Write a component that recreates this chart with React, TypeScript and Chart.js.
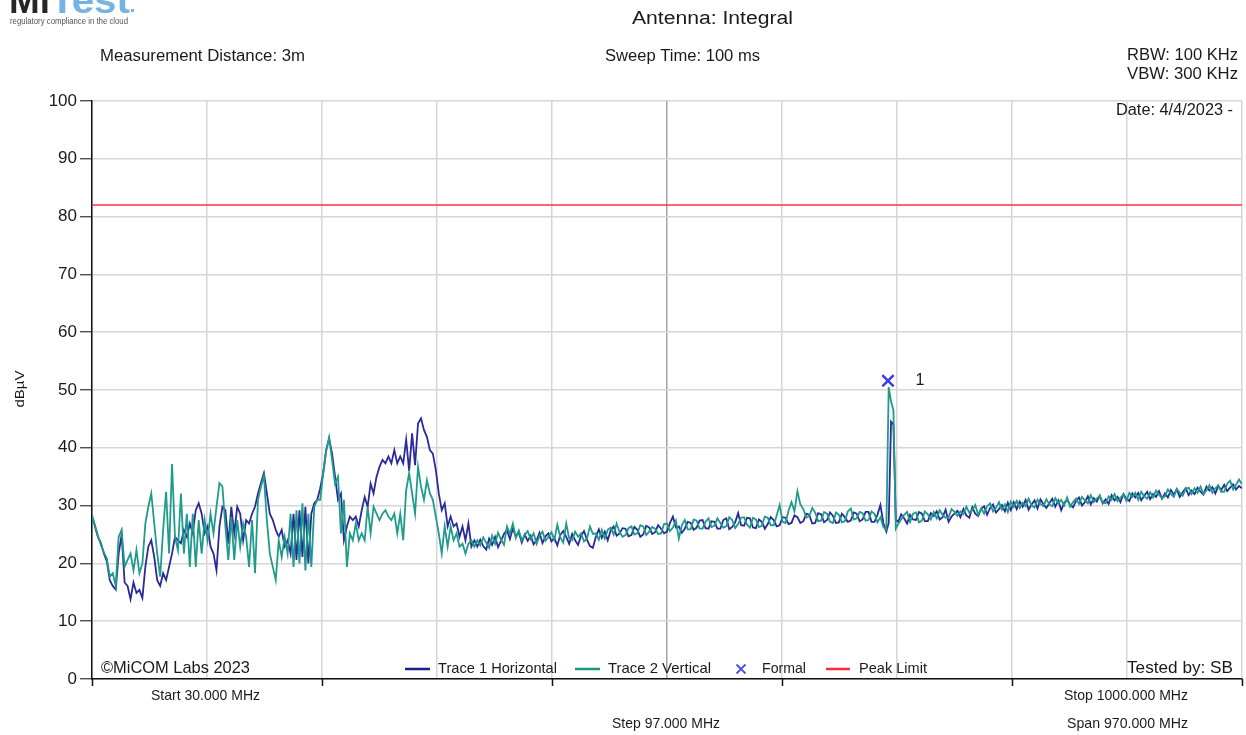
import React, { useEffect, useRef } from 'react';
import { Chart, registerables } from 'chart.js';

Chart.register(...registerables);

// ---------- DATA ----------
// Frequency (MHz) of each sample shared by both traces
const freqsMHz: number[] = [
  30, 32.5, 35, 37.5, 40, 42.5, 45, 47.5, 50, 52.5,
  55, 57.5, 60, 62.5, 65, 67.5, 70, 72.5, 75, 77.5,
  80, 82.5, 85, 87.5, 90, 92.5, 95, 97.5, 100, 102.5,
  105, 107.5, 110, 112.5, 115, 117.5, 120, 122.5, 125, 127.5,
  130, 132.5, 135, 137.5, 140, 142.5, 145, 147.5, 150, 152.5,
  155, 157.5, 160, 162.5, 165, 167.5, 170, 172.5, 175, 177.5,
  180, 182.5, 185, 187.5, 190, 192.5, 195, 197.5, 200, 202.5,
  205, 207.5, 210, 212.5, 215, 217.5, 220, 222.5, 225, 227.5,
  230, 232.5, 235, 237.5, 240, 242.5, 245, 247.5, 250, 252.5,
  255, 257.5, 260, 262.5, 265, 267.5, 270, 272.5, 275, 277.5,
  280, 282.5, 285, 287.5, 290, 292.5, 295, 297.5, 300, 302.5,
  305, 307.5, 310, 312.5, 315, 317.5, 320, 322.5, 325, 327.5,
  330, 332.5, 335, 337.5, 340, 342.5, 345, 347.5, 350, 352.5,
  355, 357.5, 360, 362.5, 365, 367.5, 370, 372.5, 375, 377.5,
  380, 382.5, 385, 387.5, 390, 392.5, 395, 397.5, 400, 402.5,
  405, 407.5, 410, 412.5, 415, 417.5, 420, 422.5, 425, 427.5,
  430, 432.5, 435, 437.5, 440, 442.5, 445, 447.5, 450, 452.5,
  455, 457.5, 460, 462.5, 465, 467.5, 470, 472.5, 475, 477.5,
  480, 482.5, 485, 487.5, 490, 492.5, 495, 497.5, 500, 502.5,
  505, 507.5, 510, 512.5, 515, 517.5, 520, 522.5, 525, 527.5,
  530, 532.5, 535, 537.5, 540, 542.5, 545, 547.5, 550, 552.5,
  555, 557.5, 560, 562.5, 565, 567.5, 570, 572.5, 575, 577.5,
  580, 582.5, 585, 587.5, 590, 592.5, 595, 597.5, 600, 602.5,
  605, 607.5, 610, 612.5, 615, 617.5, 620, 622.5, 625, 627.5,
  630, 632.5, 635, 637.5, 640, 642.5, 645, 647.5, 650, 652.5,
  655, 657.5, 660, 662.5, 665, 667.5, 670, 672.5, 675, 677.5,
  680, 682.5, 685, 687.5, 690, 692.5, 695, 697.5,
  700, 702, 704, 706, 708,
  710, 712.5, 715, 717.5, 720, 722.5, 725, 727.5, 730, 732.5,
  735, 737.5, 740, 742.5, 745, 747.5, 750, 752.5, 755, 757.5,
  760, 762.5, 765, 767.5, 770, 772.5, 775, 777.5, 780, 782.5,
  785, 787.5, 790, 792.5, 795, 797.5, 800, 802.5, 805, 807.5,
  810, 812.5, 815, 817.5, 820, 822.5, 825, 827.5, 830, 832.5,
  835, 837.5, 840, 842.5, 845, 847.5, 850, 852.5, 855, 857.5,
  860, 862.5, 865, 867.5, 870, 872.5, 875, 877.5, 880, 882.5,
  885, 887.5, 890, 892.5, 895, 897.5, 900, 902.5, 905, 907.5,
  910, 912.5, 915, 917.5, 920, 922.5, 925, 927.5, 930, 932.5,
  935, 937.5, 940, 942.5, 945, 947.5, 950, 952.5, 955, 957.5,
  960, 962.5, 965, 967.5, 970, 972.5, 975, 977.5, 980, 982.5,
  985, 987.5, 990, 992.5, 995, 997.5, 1000,
];

// Trace 1 Horizontal (dBµV)
const trace1Horizontal: number[] = [
  28.3, 26.4, 24.6, 23.5, 21.7, 20.4, 17.1, 16.1, 15.5, 21.7,
  25.0, 16.7, 16.1, 13.8, 16.7, 14.9, 15.4, 14.0, 19.4, 22.9,
  24.0, 21.1, 17.1, 16.1, 18.3, 17.1, 19.4, 21.7, 24.6, 24.0,
  23.5, 25.8, 24.6, 26.9, 25.2, 29.2, 30.4, 28.6, 25.2, 26.4,
  22.9, 21.7, 18.8, 26.4, 29.8, 29.2, 23.4, 29.8, 25.2, 29.8,
  28.6, 24.0, 27.5, 26.9, 28.6, 29.8, 32.1, 33.9, 35.6, 32.1,
  28.6, 27.5, 25.8, 24.6, 25.8, 22.9, 24.0, 21.7, 28.6, 20.6,
  29.2, 21.1, 29.8, 20.0, 28.6, 30.4, 31.0, 33.0, 35.6, 39.6,
  41.6, 39.0, 35.0, 31.0, 32.1, 24.0, 26.4, 28.1, 27.5, 28.1,
  26.4, 29.2, 31.5, 29.8, 33.8, 32.1, 35.0, 36.7, 37.9, 37.3,
  38.5, 37.3, 39.6, 37.3, 38.5, 37.3, 41.4, 36.0, 42.5, 37.0,
  44.2, 45.1, 43.1, 41.9, 39.6, 39.0, 36.2, 32.1, 29.2, 30.4,
  26.4, 28.1, 26.4, 26.9, 24.6, 26.4, 24.0, 26.9, 22.9, 24.0,
  22.9, 24.1, 23.0, 22.4, 24.3, 23.2, 24.6, 22.8, 23.9, 25.1,
  25.8, 24.2, 26.1, 24.6, 25.4, 23.6, 25.0, 23.9, 24.8, 23.3,
  24.0, 25.3, 23.5, 24.7, 25.2, 23.8, 24.4, 23.1, 24.9, 25.6,
  24.6, 23.4, 25.1, 24.0, 23.2, 24.8, 25.6, 24.1, 23.0, 22.7,
  24.6, 25.9, 24.4, 25.5, 24.0, 25.7, 26.4, 24.8, 25.2, 26.1,
  26.0, 24.7, 24.9, 26.3, 25.8, 24.6, 25.0, 26.5, 26.2, 25.1,
  25.4, 26.6, 26.0, 25.2, 25.5, 27.0, 28.1, 26.2, 26.4, 25.3,
  26.0, 27.2, 27.0, 25.8, 26.2, 27.4, 27.5, 26.1, 26.0, 27.3,
  27.2, 26.0, 26.0, 27.5, 27.8, 25.9, 26.3, 27.1, 28.7, 26.6,
  26.5, 27.9, 27.8, 26.2, 26.1, 27.6, 27.2, 26.0, 26.8, 28.0,
  27.5, 26.4, 26.6, 28.0, 27.9, 26.8, 27.0, 28.3, 28.0, 27.0,
  27.3, 28.6, 28.4, 26.9, 27.0, 28.7, 28.5, 27.1, 27.5, 28.8,
  28.2, 27.0, 27.1, 28.6, 28.0, 27.2, 27.4, 28.8, 28.6, 27.3,
  27.6, 28.9, 28.9, 27.2, 27.2, 28.4, 30.1, 27.0,
  25.5, 27.0, 44.5, 44.0, 27.5,
  27.2, 28.5, 27.8, 26.9, 28.4, 27.6, 27.5, 28.9, 28.6, 27.3,
  27.3, 28.7, 28.2, 29.0, 27.6, 28.0, 29.3, 27.2, 28.1, 28.6,
  29.1, 28.0, 29.4, 28.3, 27.9, 29.7, 28.6, 28.2, 29.5, 29.9,
  28.4, 29.6, 30.2, 28.8, 29.4, 30.1, 29.0, 30.5, 29.2, 30.6,
  29.4, 30.7, 29.8, 31.0, 29.3, 30.2, 30.9, 29.5, 31.1, 30.3,
  29.6, 30.4, 31.2, 29.8, 30.9, 29.2, 30.5, 31.0, 30.1, 29.7,
  30.8, 31.4, 30.0, 30.6, 31.6, 30.2, 31.3, 30.7, 31.7, 30.4,
  31.1, 30.3, 31.8, 30.9, 31.5, 30.6, 32.0, 31.2, 30.8, 32.1,
  31.4, 32.2, 30.9, 31.7, 32.4, 31.1, 32.0, 31.5, 32.5, 31.2,
  32.1, 31.4, 32.7, 31.9, 32.8, 31.5, 32.3, 33.0, 31.8, 32.6,
  32.0, 33.1, 32.4, 31.9, 33.3, 32.6, 33.2, 32.1, 33.4, 32.7,
  33.6, 32.5, 33.1, 33.7, 32.8, 33.4, 33.0,
];

// Trace 2 Vertical (dBµV)
const trace2Vertical: number[] = [
  28.3, 26.6, 24.8, 23.2, 21.9, 20.9, 17.7, 18.3, 16.1, 24.6,
  25.8, 19.4, 20.6, 21.7, 18.8, 22.3, 18.3, 20.0, 26.9, 29.8,
  32.1, 26.9, 21.7, 17.7, 25.8, 32.4, 21.7, 37.2, 24.6, 22.3,
  32.1, 21.7, 28.6, 19.4, 28.6, 19.4, 27.5, 21.7, 27.5, 24.0,
  28.6, 25.2, 29.8, 33.9, 33.3, 26.4, 20.6, 28.0, 20.6, 27.5,
  22.9, 26.9, 24.6, 19.4, 27.5, 18.3, 31.0, 33.3, 35.1, 27.5,
  21.7, 19.4, 17.1, 24.0, 21.1, 24.6, 21.7, 28.6, 19.4, 29.2,
  20.0, 30.4, 18.8, 28.6, 19.4, 29.8, 31.0, 31.0, 35.6, 39.4,
  41.8, 37.9, 33.8, 35.0, 25.2, 31.0, 19.4, 25.2, 24.0, 26.9,
  24.0, 25.2, 24.0, 29.8, 25.2, 29.8, 28.6, 27.5, 28.6, 29.2,
  28.1, 27.5, 28.6, 25.2, 28.6, 24.0, 32.7, 35.6, 32.1, 28.6,
  36.7, 33.3, 31.0, 34.4, 32.1, 31.0, 28.1, 25.2, 21.7, 26.4,
  22.9, 26.4, 24.0, 25.2, 22.9, 23.4, 21.7, 23.4, 24.0, 22.9,
  24.0, 23.1, 24.5, 23.6, 22.7, 24.8, 23.4, 25.3, 24.1, 23.2,
  26.4, 25.1, 26.9, 24.4, 25.7, 24.0, 24.9, 25.6, 24.2, 25.2,
  23.4, 24.8, 25.5, 23.9, 24.6, 25.4, 24.1, 26.7, 24.5, 23.6,
  26.9, 24.3, 24.0, 25.5, 24.6, 25.2, 23.8, 24.3, 26.4, 25.1,
  25.2, 24.1, 25.8, 24.3, 25.8, 26.2, 25.0, 26.9, 25.4, 24.6,
  24.9, 26.1, 26.4, 25.0, 25.2, 26.6, 26.4, 24.9, 25.5, 26.3,
  26.0, 25.1, 25.2, 26.8, 26.9, 25.6, 26.2, 27.4, 24.3, 26.6,
  27.5, 25.9, 25.9, 27.6, 27.4, 26.0, 26.0, 27.2, 27.8, 26.3,
  26.5, 27.8, 27.0, 26.2, 26.4, 28.0, 27.5, 26.1, 26.8, 27.9,
  28.0, 26.7, 26.2, 27.9, 27.6, 26.3, 26.5, 28.1, 27.9, 26.6,
  26.6, 28.3, 30.1, 27.2, 27.0, 29.1, 30.6, 29.0, 32.5, 30.2,
  29.4, 27.9, 28.2, 29.6, 28.8, 27.3, 27.4, 28.9, 28.6, 27.2,
  27.0, 28.8, 28.4, 27.1, 27.3, 29.0, 29.5, 27.6, 27.8, 28.9,
  28.7, 27.4, 27.5, 29.0, 28.6, 27.1, 28.0, 26.3,
  25.8, 50.5, 48.0, 46.5, 26.0,
  26.8, 27.6, 28.4, 28.9, 27.2, 28.6, 28.8, 27.1, 27.4, 29.0,
  28.5, 27.6, 28.9, 27.8, 29.2, 28.4, 27.9, 28.0, 29.4, 28.9,
  28.2, 29.0, 28.5, 29.8, 28.8, 29.2, 30.1, 28.4, 29.5, 28.6,
  29.9, 30.4, 29.0, 29.6, 30.6, 29.3, 30.2, 28.9, 30.7, 29.8,
  30.8, 29.6, 30.5, 29.9, 31.2, 30.0, 29.7, 31.0, 30.3, 29.9,
  31.1, 30.2, 29.9, 31.3, 30.4, 31.0, 30.0, 31.4, 29.8, 30.6,
  31.2, 30.3, 31.5, 30.9, 30.4, 31.8, 30.6, 31.2, 31.7, 30.5,
  30.4, 31.6, 31.0, 32.0, 30.8, 31.4, 31.9, 30.8, 32.2, 31.5,
  32.2, 31.0, 32.4, 31.6, 31.2, 32.3, 31.4, 32.6, 31.9, 31.3,
  31.6, 32.8, 32.0, 31.5, 32.9, 32.2, 31.7, 32.9, 33.1, 32.0,
  33.0, 32.2, 33.3, 32.0, 32.6, 33.5, 32.2, 33.0, 33.5, 32.4,
  32.4, 33.8, 34.3, 32.8, 33.6, 34.5, 33.7,
];

// Marker "1" (Formal)
const markerFreqs: number[] = [701.4];
const markerLevels: number[] = [51.6];
const markerLabels: string[] = ['1'];

// Peak limit line (dBµV)
const peakLimitFreqs: number[] = [30, 1000];
const peakLimitLevels: number[] = [82, 82];

// Axis ticks
const xGridFreqs: number[] = [30, 127, 224, 321, 418, 515, 612, 709, 806, 903, 1000];
const yMin = 0;
const yMax = 100;
const yStep = 10;

// ---------- STYLE ----------
const FONT = '"Liberation Sans", Arial, Helvetica, sans-serif';
const TEXT = '#1a1a1a';
const BLUE = '#2a2a9a';
const TEAL = '#1f9b8b';
const RED = '#ff3344';
const MARK = '#3c3ce6';

function drawText(
  ctx: CanvasRenderingContext2D,
  text: string,
  x: number,
  y: number,
  size: number,
  align: 'left' | 'center' | 'right',
  width?: number,
  color: string = TEXT,
) {
  ctx.save();
  ctx.font = `${size}px ${FONT}`;
  ctx.fillStyle = color;
  ctx.textBaseline = 'middle';
  ctx.textAlign = 'left';
  const natural = ctx.measureText(text).width;
  const sx = width ? width / natural : 1;
  const w = natural * sx;
  const left = align === 'left' ? x : align === 'right' ? x - w : x - w / 2;
  ctx.translate(left, y);
  ctx.scale(sx, 1);
  ctx.fillText(text, 0, 0);
  ctx.restore();
}

const decorPlugin = {
  id: 'decor',
  beforeDraw(chart: any) {
    const ctx: CanvasRenderingContext2D = chart.ctx;
    ctx.save();
    ctx.fillStyle = '#ffffff';
    ctx.fillRect(0, 0, chart.width, chart.height);
    ctx.restore();
  },
  afterDraw(chart: any) {
    const ctx: CanvasRenderingContext2D = chart.ctx;
    const xs = chart.scales.x;
    const ys = chart.scales.y;
    const area = chart.chartArea;

    // Logo
    ctx.save();
    ctx.textBaseline = 'alphabetic';
    ctx.font = `bold 36px ${FONT}`;
    const miW = ctx.measureText('Mi').width;
    ctx.translate(9, 13);
    ctx.scale(41 / miW, 1);
    ctx.fillStyle = '#262626';
    ctx.fillText('Mi', 0, 0);
    ctx.restore();
    ctx.save();
    ctx.textBaseline = 'alphabetic';
    ctx.font = `bold 36px ${FONT}`;
    const teW = ctx.measureText('Test').width;
    ctx.translate(50, 13);
    ctx.scale(80 / teW, 1);
    ctx.fillStyle = '#74b3e3';
    ctx.fillText('Test', 0, 0);
    ctx.restore();
    ctx.save();
    ctx.fillStyle = '#74b3e3';
    ctx.fillRect(131, 9, 3, 3);
    ctx.restore();
    drawText(ctx, 'regulatory compliance in the cloud', 10, 22, 9, 'left', 118, '#555555');

    // Header texts
    drawText(ctx, 'Antenna: Integral', 712.5, 19, 18, 'center', 161);
    drawText(ctx, 'Measurement Distance: 3m', 100, 57, 16, 'left', 205);
    drawText(ctx, 'Sweep Time: 100 ms', 605, 57, 16, 'left', 155);
    drawText(ctx, 'RBW: 100 KHz', 1238, 56, 16, 'right', 111);
    drawText(ctx, 'VBW: 300 KHz', 1238, 75, 16, 'right', 111);
    drawText(ctx, 'Date: 4/4/2023 -', 1233, 111, 16, 'right', 117);

    // Y axis title
    ctx.save();
    ctx.translate(20, 389);
    ctx.rotate(-Math.PI / 2);
    drawText(ctx, 'dBµV', 0, 0, 13, 'center', 37);
    ctx.restore();

    // Bottom tick marks (every second grid line)
    ctx.save();
    ctx.strokeStyle = '#111';
    ctx.lineWidth = 1.5;
    xGridFreqs.forEach((f, i) => {
      if (i % 2 !== 0) return;
      const px = Math.round(xs.getPixelForValue(f)) + 0.5;
      ctx.beginPath();
      ctx.moveTo(px, area.bottom);
      ctx.lineTo(px, area.bottom + 7);
      ctx.stroke();
    });
    ctx.restore();

    // In-chart texts
    drawText(ctx, '©MiCOM Labs 2023', 101, 668, 17, 'left', 149);
    drawText(ctx, 'Tested by: SB', 1233, 668, 17, 'right', 106);

    // Legend
    const ly = 669;
    const legendLine = (x1: number, x2: number, color: string) => {
      ctx.save();
      ctx.strokeStyle = color;
      ctx.lineWidth = 2.5;
      ctx.beginPath();
      ctx.moveTo(x1, ly);
      ctx.lineTo(x2, ly);
      ctx.stroke();
      ctx.restore();
    };
    legendLine(405, 430, '#1f1f8c');
    drawText(ctx, 'Trace 1 Horizontal', 438, ly, 15, 'left', 119);
    legendLine(575, 600, '#14987e');
    drawText(ctx, 'Trace 2 Vertical', 608, ly, 15, 'left', 103);
    ctx.save();
    ctx.strokeStyle = '#5050e0';
    ctx.lineWidth = 1.8;
    ctx.beginPath();
    ctx.moveTo(736.5, ly - 4.5);
    ctx.lineTo(745.5, ly + 4.5);
    ctx.moveTo(745.5, ly - 4.5);
    ctx.lineTo(736.5, ly + 4.5);
    ctx.stroke();
    ctx.restore();
    drawText(ctx, 'Formal', 762, ly, 15, 'left', 44);
    legendLine(826, 850, '#ff2a3a');
    drawText(ctx, 'Peak Limit', 859, ly, 15, 'left', 68);

    // Marker labels
    markerFreqs.forEach((f, i) => {
      const px = xs.getPixelForValue(f);
      const py = ys.getPixelForValue(markerLevels[i]);
      drawText(ctx, markerLabels[i], px + 32, py, 16, 'center');
    });

    // Below-axis texts
    drawText(ctx, 'Start 30.000 MHz', 205.5, 696, 15, 'center', 109);
    drawText(ctx, 'Stop 1000.000 MHz', 1126, 696, 15, 'center', 124);
    drawText(ctx, 'Step 97.000 MHz', 666, 724, 15, 'center', 108);
    drawText(ctx, 'Span 970.000 MHz', 1127.5, 724, 15, 'center', 121);
  },
};

export default function App() {
  const canvasRef = useRef<HTMLCanvasElement | null>(null);

  useEffect(() => {
    const canvas = canvasRef.current;
    if (!canvas) return;
    const pts = (xs: number[], vals: number[]) => xs.map((f, i) => ({ x: f, y: vals[i] }));

    const chart = new Chart(canvas, {
      type: 'line',
      data: {
        datasets: [
          {
            label: 'Formal',
            data: pts(markerFreqs, markerLevels),
            showLine: false,
            pointStyle: 'crossRot',
            pointRadius: 8,
            pointBorderWidth: 2.5,
            borderColor: MARK,
            backgroundColor: MARK,
            clip: false,
            order: 0,
          },
          {
            label: 'Trace 2 Vertical',
            data: pts(freqsMHz, trace2Vertical),
            borderColor: TEAL,
            borderWidth: 1.8,
            pointRadius: 0,
            tension: 0,
            order: 1,
          },
          {
            label: 'Trace 1 Horizontal',
            data: pts(freqsMHz, trace1Horizontal),
            borderColor: BLUE,
            borderWidth: 1.8,
            pointRadius: 0,
            tension: 0,
            order: 2,
          },
          {
            label: 'Peak Limit',
            data: pts(peakLimitFreqs, peakLimitLevels),
            borderColor: RED,
            borderWidth: 1.5,
            pointRadius: 0,
            order: 3,
          },
        ],
      },
      options: {
        animation: false,
        responsive: true,
        maintainAspectRatio: false,
        events: [],
        layout: { autoPadding: false, padding: { top: 101, right: 4, left: 0, bottom: 0 } },
        plugins: {
          legend: { display: false },
          tooltip: { enabled: false },
          title: { display: false },
        },
        scales: {
          x: {
            type: 'linear',
            min: xGridFreqs[0],
            max: xGridFreqs[xGridFreqs.length - 1],
            afterBuildTicks: (scale: any) => {
              scale.ticks = xGridFreqs.map((v) => ({ value: v }));
            },
            afterFit: (scale: any) => {
              scale.height = 56;
            },
            ticks: { display: false },
            grid: {
              color: (c: any) => (c.tick && c.tick.value === 515 ? '#a3a3a3' : '#d6d6d6'),
              lineWidth: 1.5,
              drawTicks: false,
            },
            border: { display: true, color: '#111', width: 1.5 },
          },
          y: {
            type: 'linear',
            min: yMin,
            max: yMax,
            afterFit: (scale: any) => {
              scale.width = 92;
            },
            ticks: {
              stepSize: yStep,
              color: TEXT,
              padding: 3,
              font: { family: FONT, size: 17 },
            },
            grid: {
              color: '#d6d6d6',
              lineWidth: 1.5,
              drawTicks: true,
              tickLength: 12,
              tickColor: '#333',
              tickWidth: 1.2,
            },
            border: { display: true, color: '#111', width: 1.5 },
          },
        },
      },
      plugins: [decorPlugin],
    });

    return () => chart.destroy();
  }, []);

  return (
    <div style={{ position: 'absolute', left: 0, top: 0, width: 1246, height: 735, background: '#fff' }}>
      <canvas ref={canvasRef} />
    </div>
  );
}
